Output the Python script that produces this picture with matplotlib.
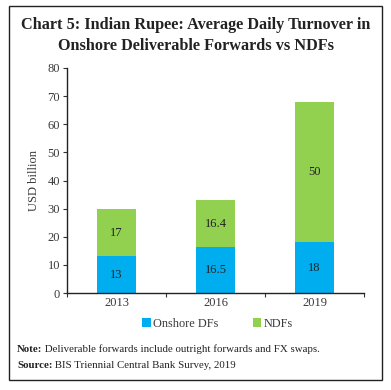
import matplotlib.pyplot as plt
from matplotlib.patches import Rectangle
import numpy as np

years = ["2013", "2016", "2019"]
onshore_dfs = [13, 16.5, 18]
ndfs = [17, 16.4, 50]
onshore_labels = ["13", "16.5", "18"]
ndf_labels = ["17", "16.4", "50"]
yticks = [0, 10, 20, 30, 40, 50, 60, 70, 80]

BLUE = "#00AEEF"
GREEN = "#92D050"
TXT = "#3a3a3a"
SERIF = ["Liberation Serif", "DejaVu Serif"]

fig = plt.figure(figsize=(3.91, 3.90), dpi=100)
fig.patch.set_facecolor("white")

# outer border
fig.add_artist(Rectangle((9/391, 1 - 380/390), (382-9)/391, (380-6)/390,
                         transform=fig.transFigure, fill=False, edgecolor="#222222", lw=1.0))

fig.text(0.5, 1 - 25/390, "Chart 5: Indian Rupee: Average Daily Turnover in",
         ha="center", va="center", fontsize=11.7, fontweight="bold", family=SERIF, color="#222222")
fig.text(0.5, 1 - 46/390, "Onshore Deliverable Forwards vs NDFs",
         ha="center", va="center", fontsize=11.7, fontweight="bold", family=SERIF, color="#222222")

ax = fig.add_axes([67/391, 1 - 293/390, (364-67)/391, (293-68)/390])
x = np.arange(len(years))
w = 0.4
b1 = ax.bar(x, onshore_dfs, w, color=BLUE, label="Onshore DFs")
b2 = ax.bar(x, ndfs, w, bottom=onshore_dfs, color=GREEN, label="NDFs")

for i in range(len(years)):
    ax.text(x[i], onshore_dfs[i] / 2, onshore_labels[i], ha="center", va="center",
            fontsize=9, color="#222222", family=SERIF)
    ax.text(x[i], onshore_dfs[i] + ndfs[i] / 2, ndf_labels[i], ha="center", va="center",
            fontsize=9, color="#222222", family=SERIF)

ax.set_ylim(0, 80)
ax.set_xlim(-0.5, 2.5)
ax.set_yticks(yticks)
ax.set_yticklabels([str(t) for t in yticks], family=SERIF, fontsize=9, color=TXT)
ax.set_xticks([-0.5, 0.5, 1.5, 2.5])
ax.set_xticklabels([])
ax.set_xticks(x, minor=True)
ax.set_xticklabels(years, minor=True, family=SERIF, fontsize=9, color=TXT)
ax.tick_params(axis="x", which="minor", length=0, pad=3)
ax.tick_params(axis="x", which="major", length=3, direction="out", color="#333333")
ax.tick_params(axis="y", length=3, direction="out", color="#333333", pad=2)
for s in ["top", "right"]:
    ax.spines[s].set_visible(False)
for s in ["left", "bottom"]:
    ax.spines[s].set_color("#222222")
    ax.spines[s].set_linewidth(1.0)

ax.set_ylabel("USD billion", family=SERIF, fontsize=9, color=TXT, labelpad=5)

leg = fig.legend(handles=[b1, b2], labels=["Onshore DFs", "NDFs"], loc="center",
                 bbox_to_anchor=(0.556, 1 - 324/390), ncol=2, frameon=False,
                 prop={"family": SERIF, "size": 8.8}, handlelength=0.7, handleheight=0.7,
                 handletextpad=0.2, columnspacing=2.8)
for t in leg.get_texts():
    t.set_color(TXT)

note_lbl = fig.text(17/391, 1 - 349/390, "Note:", fontsize=7.8, fontweight="bold",
                    family=SERIF, va="center", color="#222222")
ax.annotate(" Deliverable forwards include outright forwards and FX swaps.",
            xy=(1, 0.5), xycoords=note_lbl, va="center", ha="left",
            fontsize=7.8, family=SERIF, color="#222222", annotation_clip=False)
src_lbl = fig.text(17/391, 1 - 365/390, "Source:", fontsize=7.8, fontweight="bold",
                   family=SERIF, va="center", color="#222222")
ax.annotate(" BIS Triennial Central Bank Survey, 2019",
            xy=(1, 0.5), xycoords=src_lbl, va="center", ha="left",
            fontsize=7.8, family=SERIF, color="#222222", annotation_clip=False)

fig.savefig("out.png", dpi=100)
